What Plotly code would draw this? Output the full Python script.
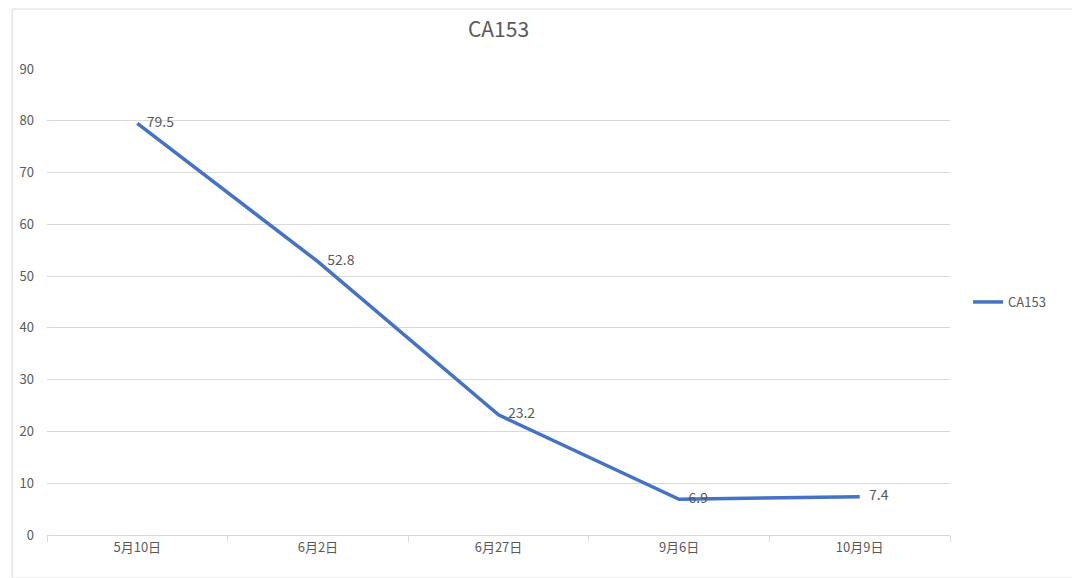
import plotly.graph_objects as go

categories = ["5月10日", "6月2日", "6月27日", "9月6日", "10月9日"]
values = [79.5, 52.8, 23.2, 6.9, 7.4]
labels = ["79.5", "52.8", "23.2", "6.9", "7.4"]

font = "Noto Sans CJK SC, Noto Sans, sans-serif"
fig = go.Figure(go.Scatter(
    x=categories, y=values, mode="lines+text", name="CA153",
    text=["   " + s for s in labels], textposition="middle right",
    textfont=dict(size=14, color="#595959", family=font),
    line=dict(color="#4472C4", width=3.5),
))
fig.update_layout(
    width=1080, height=578,
    paper_bgcolor="white", plot_bgcolor="white",
    margin=dict(l=35, r=138, t=61, b=51),
    title=dict(text="CA153", x=0.5, xref="paper", y=0.962, yanchor="middle",
               font=dict(size=21, color="#595959", family=font)),
    font=dict(family=font, color="#595959", size=13),
    showlegend=True,
    legend=dict(x=1.02, y=0.5, xanchor="left", yanchor="middle",
                font=dict(size=13, color="#595959")),
    xaxis=dict(type="category", range=[-0.5, 4.5], showgrid=False,
               showline=True, linecolor="#D9D9D9", ticks="outside",
               tickson="boundaries", ticklen=6, tickcolor="#D9D9D9"),
    yaxis=dict(range=[0, 90], dtick=10, showgrid=True, gridcolor="#D9D9D9",
               zeroline=False, showline=False, ticks="", ticklabelstandoff=12),
    shapes=[dict(type="rect", xref="paper", yref="paper",
                 x0=-35/907, x1=1+129/907, y0=-43/466, y1=1+60/466,
                 line=dict(color="#D9D9D9", width=1))],
)
fig.write_html("out.html")
